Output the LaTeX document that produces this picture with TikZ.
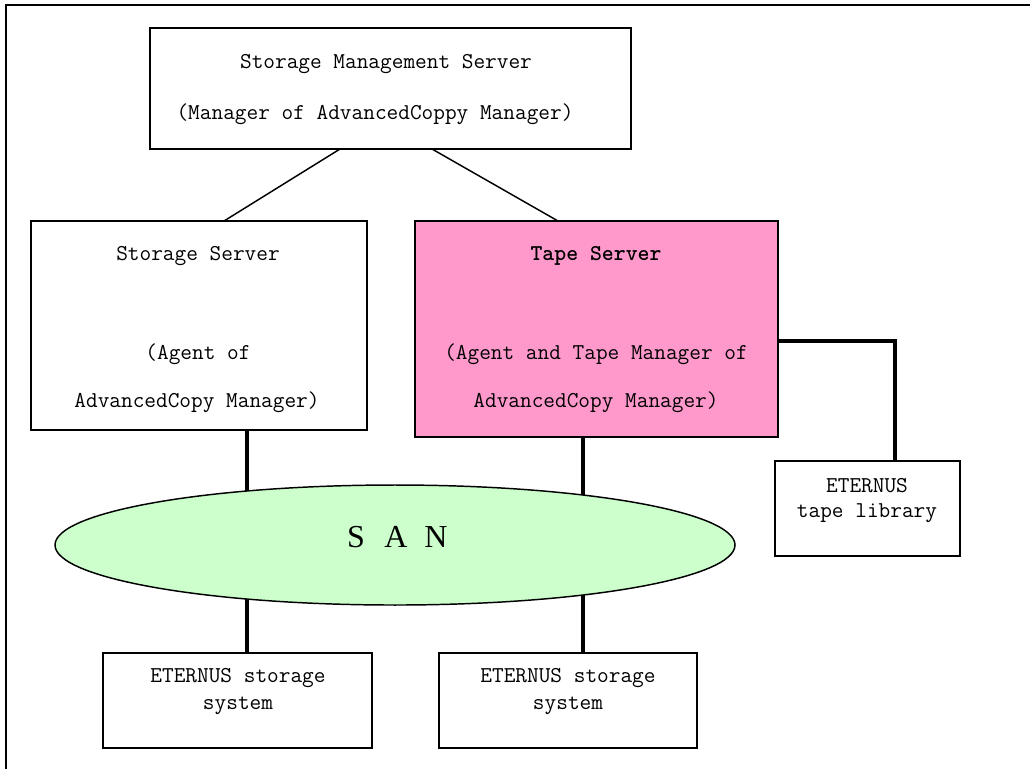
\documentclass[tikz,border=0pt]{standalone}
\usepackage{fontspec}
\usetikzlibrary{shapes.geometric,backgrounds,calc}
\newfontfamily\sanfont{Liberation Serif}
\definecolor{tapepink}{HTML}{FF99CC}
\definecolor{sangreen}{HTML}{CCFFCC}
\begin{document}
\begin{tikzpicture}[x=0.75pt,y=-0.75pt,
  box/.style={draw,line width=1.2pt,inner sep=0pt,outer sep=0pt},
  txt/.style={inner sep=0pt,font=\ttfamily\fontsize{17}{19}\selectfont},
  stxt/.style={inner sep=0pt,font=\ttfamily\fontsize{17}{19}\selectfont},
  thin link/.style={line width=1.1pt},
  thick link/.style={line width=2.6pt}]
\useasboundingbox (0,0) rectangle (1030,769);
\draw[line width=1.5pt] (6,769) -- (6,5) -- (1030,5);

% boxes
\node[box,minimum width=360.75pt,minimum height=90.75pt] (top) at (390.5,88.5) {};
\node[box,minimum width=252pt,minimum height=156.75pt] (ss) at (199,325.5) {};
\node[box,fill=tapepink,minimum width=272.25pt,minimum height=162pt] (ts) at (596.5,329) {};
\node[box,minimum width=138.75pt,minimum height=71.25pt] (tl) at (867.5,508.5) {};
\node[box,minimum width=201.75pt,minimum height=71.25pt] (es1) at (237.5,700.5) {};
\node[box,minimum width=193.5pt,minimum height=71.25pt] (es2) at (568,700.5) {};
\node[ellipse,draw,line width=1.1pt,fill=sangreen,inner sep=0pt,minimum width=510pt,minimum height=90pt] (san) at (395,545) {};

% texts
\node[txt] (t1) at (386,64) {Storage Management Server};
\node[txt] (t2) at (375,114) {(Manager of AdvancedCoppy Manager)};
\node[txt] (s1) at (198,256) {Storage Server};
\node[txt] (s2) at (198,354) {(Agent of};
\node[txt] (s3) at (197,402) {AdvancedCopy Manager)};
\node[txt,font=\ttfamily\bfseries\fontsize{17}{19}\selectfont] (p1) at (596,256) {Tape Server};
\node[txt] (p2) at (596,354) {(Agent and Tape Manager of};
\node[txt] (p3) at (596,402) {AdvancedCopy Manager)};
\node[stxt] (l1) at (867,486) {ETERNUS};
\node[stxt] (l2) at (867,513) {tape library};
\node[stxt] (e1) at (238,678) {ETERNUS storage};
\node[stxt] (e2) at (238,706) {system};
\node[stxt] (f1) at (568,678) {ETERNUS storage};
\node[stxt] (f2) at (568,706) {system};
\node[inner sep=0pt,font=\sanfont\fontsize{24}{26}\selectfont] (sanlabel) at (396,537)
  {\makebox[30pt]{S}\makebox[30pt]{A}\makebox[30pt]{N}};

% connectors
\draw[thin link] ($(top.south)+(-50.5,0)$) -- ($(ss.north)+(25,0)$);
\draw[thin link] ($(top.south)+(41.5,0)$) -- ($(ts.north)+(-38.5,0)$);
\draw[thick link] ($(ts.east)+(0,12)$) -| ($(tl.north)+(27.5,0)$);
\begin{pgfonlayer}{background}
\draw[thick link] ($(ss.south)+(48,0)$) -- ($(es1.north)+(9.5,0)$);
\draw[thick link] ($(ts.south)+(-13.5,0)$) -- ($(es2.north)+(15,0)$);
\end{pgfonlayer}
\end{tikzpicture}
\end{document}
